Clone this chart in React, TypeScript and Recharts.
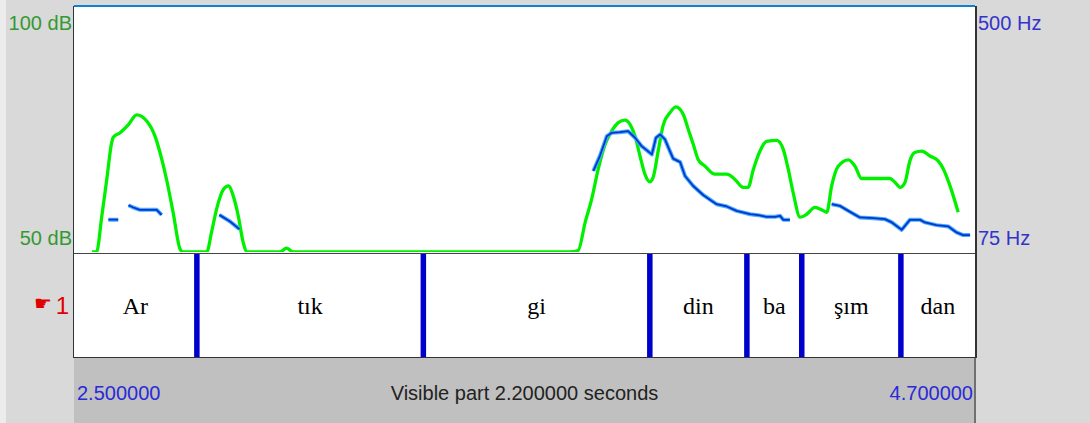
import React from 'react';
import { ComposedChart, Line, XAxis, YAxis, ReferenceLine, Scatter } from 'recharts';

// ---- data ----
const timeDomain: [number, number] = [2.5, 4.7];

const intensityTimes = [2.544, 2.555, 2.568, 2.580, 2.592, 2.596, 2.612, 2.633, 2.653, 2.678, 2.698, 2.710, 2.726, 2.742, 2.759, 2.766, 2.824, 2.836, 2.848, 2.865, 2.877, 2.889, 2.901, 2.913, 2.922, 3.003, 3.019, 3.035, 3.711, 3.731, 3.748, 3.764, 3.780, 3.797, 3.813, 3.829, 3.845, 3.858, 3.870, 3.882, 3.894, 3.906, 3.914, 3.927, 3.939, 3.955, 3.970, 3.988, 4.000, 4.012, 4.024, 4.041, 4.065, 4.094, 4.114, 4.134, 4.146, 4.159, 4.175, 4.191, 4.216, 4.232, 4.244, 4.256, 4.273, 4.289, 4.309, 4.330, 4.338, 4.350, 4.366, 4.391, 4.407, 4.423, 4.492, 4.505, 4.517, 4.529, 4.541, 4.553, 4.570, 4.590, 4.610, 4.623, 4.639, 4.659];
const intensityDb = [50, 50, 57.4, 64.8, 72.3, 73.4, 74.3, 76.0, 78.0, 76.7, 73.6, 70.3, 64.8, 58.1, 50.6, 50, 50, 54.1, 58.7, 62.8, 63.5, 61.4, 57.4, 52.0, 50, 50, 50.8, 50, 50, 50.3, 56.0, 60.8, 66.9, 72.0, 74.7, 76.4, 76.9, 76.0, 73.6, 69.6, 65.9, 64.3, 65.2, 70.9, 76.0, 78.4, 79.6, 78.0, 75.0, 72.0, 68.9, 67.5, 65.9, 65.9, 64.8, 63.2, 63.2, 66.9, 70.6, 72.6, 72.8, 70.9, 66.9, 62.1, 57.1, 57.7, 59.1, 58.4, 58.1, 63.5, 67.5, 68.8, 67.5, 65.0, 65.0, 64.2, 63.2, 64.2, 68.6, 70.3, 70.6, 69.6, 68.6, 66.9, 63.5, 58.1];

const pitchTimes = [2.584, 2.608, 2.620, 2.633, 2.645, 2.661, 2.702, 2.714, 2.780, 2.855, 2.881, 2.904, 3.300, 3.768, 3.784, 3.801, 3.813, 3.833, 3.853, 3.870, 3.886, 3.911, 3.921, 3.931, 3.943, 3.955, 3.963, 3.980, 3.992, 4.012, 4.037, 4.069, 4.094, 4.118, 4.151, 4.171, 4.191, 4.212, 4.224, 4.232, 4.248, 4.300, 4.350, 4.370, 4.395, 4.419, 4.452, 4.480, 4.497, 4.521, 4.541, 4.566, 4.578, 4.606, 4.635, 4.655, 4.671, 4.688];
const pitchHz: (number | null)[] = [131, 131, null, 156.2, 152.2, 148.1, 148.1, 139.4, null, 139.4, 128.0, 114.7, null, 215.5, 241.4, 275.9, 281.8, 282.8, 284.6, 273.2, 258.6, 244.3, 273.2, 278.9, 270.2, 250.0, 236.9, 231.0, 206.8, 189.5, 173.5, 157.9, 154.0, 146.3, 140.6, 138.9, 136.0, 136.0, 137.7, 130.8, 130.8, null, 157.9, 155.0, 144.6, 135.0, 133.7, 132.0, 126.3, 113.5, 130.8, 130.8, 126.3, 121.6, 119.4, 109.0, 104.4, 104.4];

const boundaryTimes = [2.800, 3.353, 3.906, 4.143, 4.277, 4.519];
const intervalLabels = ['Ar', 'tık', 'gi', 'din', 'ba', 'şım', 'dan'];

const dbDomain: [number, number] = [50, 100];
const hzDomain: [number, number] = [75, 500];
const dbTicks = [50, 100];
const hzTicks = [75, 500];
const timeTicks = [2.5, 3.6, 4.7];
const timeTickLabels = ['2.500000', 'Visible part 2.200000 seconds', '4.700000'];
const tierName = '1';
const tierInfo = ['silences', '(7)'];

// ---- derived tables ----
const intensityData = intensityTimes.map((t, i) => ({ t, db: intensityDb[i] }));
const pitchData = pitchTimes.map((t, i) => ({ t, hz: pitchHz[i] }));
const edges = [timeDomain[0], ...boundaryTimes, timeDomain[1]];
const labelData = intervalLabels.map((label, i) => ({ t: (edges[i] + edges[i + 1]) / 2, y: 0.5, label }));

const SANS = "'Liberation Sans', Arial, sans-serif";
const SERIF = "'Liberation Serif', 'Times New Roman', serif";

const DbTick = (props: any) => {
  const { x, y, payload } = props;
  const top = payload.value === dbDomain[1];
  return (
    <text x={x} y={top ? y + 23 : y - 7} textAnchor="end" fill="#339933" fontSize={20} fontFamily={SANS}>
      {payload.value} dB
    </text>
  );
};

const HzTick = (props: any) => {
  const { x, y, payload } = props;
  const top = payload.value === hzDomain[1];
  return (
    <text x={x} y={top ? y + 23 : y - 7} textAnchor="start" fill="#3333cc" fontSize={20} fontFamily={SANS}>
      {payload.value} Hz
    </text>
  );
};

const TimeTick = (props: any) => {
  const { x, y, payload, index } = props;
  const i = timeTicks.indexOf(payload.value);
  const label = timeTickLabels[i >= 0 ? i : index];
  const anchor = i === 0 ? 'start' : i === timeTicks.length - 1 ? 'end' : 'middle';
  const dx = i === 0 ? 3 : i === timeTicks.length - 1 ? -2 : 0;
  const fill = i === 0 || i === timeTicks.length - 1 ? '#2a2ad8' : '#222222';
  return (
    <text x={x + dx} y={y + 43} textAnchor={anchor} fill={fill} fontSize={20} fontFamily={SANS}>
      {label}
    </text>
  );
};

const TierNameTick = (props: any) => {
  const { x, y } = props;
  return (
    <g>
      <text x={x - 22} y={y + 4} textAnchor="end" fill="#e00000" fontSize={20} fontFamily="'DejaVu Sans', sans-serif">☛</text>
      <text x={x - 5} y={y + 8} textAnchor="end" fill="#e00000" fontSize={24} fontFamily={SANS}>{tierName}</text>
    </g>
  );
};

const TierInfoTick = (props: any) => {
  const { x, y } = props;
  return (
    <g>
      <text x={x} y={y - 10} textAnchor="start" fill="#e03030" fontSize={20} fontFamily={SANS}>{tierInfo[0]}</text>
      <text x={x} y={y + 23} textAnchor="start" fill="#e03030" fontSize={20} fontFamily={SANS}>{tierInfo[1]}</text>
    </g>
  );
};

const IntervalLabel = (props: any) => {
  const { cx, cy, payload } = props;
  return (
    <text x={cx} y={cy + 8} textAnchor="middle" fill="#000" fontSize={24} fontFamily={SERIF}>
      {payload.label}
    </text>
  );
};

export default function App() {
  return (
    <div style={{ position: 'absolute', left: 0, top: 0, width: 1090, height: 423, background: '#d9d9d9', overflow: 'hidden' }}>
      <div style={{ position: 'absolute', left: 0, top: 0, width: 6, height: 423, background: '#ececec' }} />
      {/* bottom bar */}
      <div style={{ position: 'absolute', left: 74, top: 357, width: 900, height: 66, background: '#c0c0c0' }} />
      <div style={{ position: 'absolute', left: 974, top: 357, width: 2, height: 66, background: '#707070' }} />
      {/* white panel */}
      <div style={{ position: 'absolute', left: 74, top: 7, width: 901, height: 350, background: '#ffffff' }} />
      <div style={{ position: 'absolute', left: 72.5, top: 6, width: 1.5, height: 352, background: '#333333' }} />
      <div style={{ position: 'absolute', left: 975, top: 6, width: 1.5, height: 352, background: '#333333' }} />
      <div style={{ position: 'absolute', left: 74, top: 5, width: 901, height: 2, background: '#1080d0' }} />
      <div style={{ position: 'absolute', left: 74, top: 252.5, width: 901, height: 1.5, background: '#444444' }} />
      <div style={{ position: 'absolute', left: 74, top: 356.5, width: 901, height: 1.5, background: '#333333' }} />

      {/* signal panel */}
      <div style={{ position: 'absolute', left: 0, top: 7 }}>
        <ComposedChart width={1090} height={245} margin={{ top: 0, right: 0, bottom: 0, left: 0 }}>
          <XAxis type="number" dataKey="t" domain={timeDomain} allowDataOverflow hide />
          <YAxis yAxisId="db" orientation="left" width={74} domain={dbDomain} ticks={dbTicks} interval={0}
            allowDataOverflow axisLine={false} tickLine={false} tickSize={0} tickMargin={2} tick={<DbTick />} />
          <YAxis yAxisId="hz" orientation="right" width={115} domain={hzDomain} ticks={hzTicks} interval={0}
            allowDataOverflow axisLine={false} tickLine={false} tickSize={0} tickMargin={3} tick={<HzTick />} />
          <Line yAxisId="db" data={intensityData} dataKey="db" type="monotone" stroke="#00f000" strokeWidth={3.3}
            dot={false} isAnimationActive={false} strokeLinejoin="round" />
          <Line yAxisId="hz" data={pitchData} dataKey="hz" type="linear" stroke="#4aaaff" strokeWidth={4}
            dot={false} connectNulls={false} isAnimationActive={false} strokeLinejoin="round" />
          <Line yAxisId="hz" data={pitchData} dataKey="hz" type="linear" stroke="#0038cc" strokeWidth={1.8}
            dot={false} connectNulls={false} isAnimationActive={false} strokeLinejoin="round" />
        </ComposedChart>
      </div>

      {/* tier panel */}
      <div style={{ position: 'absolute', left: 0, top: 254 }}>
        <ComposedChart width={1090} height={169} margin={{ top: 0, right: 0, bottom: 0, left: 0 }}>
          <XAxis type="number" dataKey="t" domain={timeDomain} ticks={timeTicks} interval={0} height={66}
            allowDataOverflow axisLine={false} tickLine={false} tickSize={0} tickMargin={0} tick={<TimeTick />} />
          <YAxis yAxisId="l" orientation="left" width={74} type="number" domain={[0, 1]} ticks={[0.5]} interval={0}
            axisLine={false} tickLine={false} tickSize={0} tickMargin={0} tick={<TierNameTick />} />
          <YAxis yAxisId="r" orientation="right" width={115} type="number" domain={[0, 1]} ticks={[0.5]} interval={0}
            axisLine={false} tickLine={false} tickSize={0} tickMargin={3} tick={<TierInfoTick />} />
          {boundaryTimes.map((b) => (
            <ReferenceLine key={b} yAxisId="l" x={b} stroke="#0000cc" strokeWidth={5.5} />
          ))}
          <Scatter yAxisId="l" data={labelData} dataKey="y" shape={<IntervalLabel />} isAnimationActive={false} />
        </ComposedChart>
      </div>
    </div>
  );
}
